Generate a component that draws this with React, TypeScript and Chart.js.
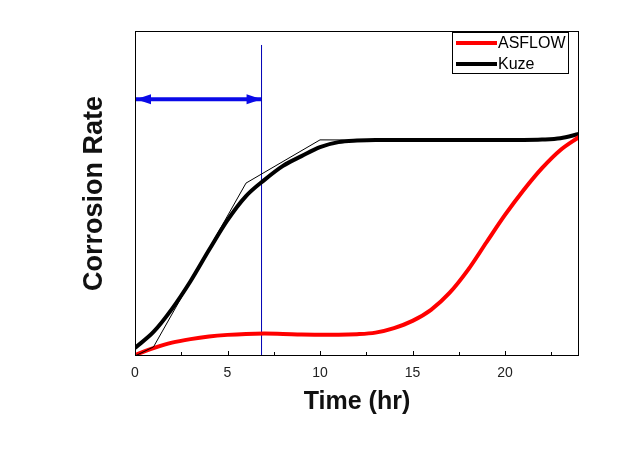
import { useEffect, useRef } from "react";
import { Chart, registerables } from "chart.js";

Chart.register(...registerables);

const hours = [0, 1, 2, 3, 4, 5, 6, 7, 8, 9, 10, 11, 12, 13, 14, 15, 16, 17, 18, 19, 20, 21, 22, 23, 24];
const asflowRate = [0.3, 2.4, 4.1, 5.2, 6.0, 6.5, 6.8, 6.9, 6.8, 6.6, 6.55, 6.55, 6.7, 7.2, 8.6, 10.8, 14.2, 19.4, 26.5, 35.0, 43.4, 51.0, 57.8, 63.4, 67.4];
const kuzeFitRate = [2.5, 7.4, 14.5, 23.0, 32.6, 41.8, 49.2, 54.2, 58.5, 61.5, 64.3, 65.8, 66.3, 66.5, 66.5, 66.5, 66.5, 66.5, 66.5, 66.5, 66.5, 66.5, 66.6, 67.0, 68.3];
const kuzeRawHours = [0, 1, 6, 10, 22, 24];
const kuzeRawRate = [0, 2.8, 53.2, 66.5, 66.3, 68.3];
const markerHour = 6.84;
const markerTop = 95.7;
const arrowLevel = 79;
const arrowHours = [0, 6.84];
const xTickValues = [0, 5, 10, 15, 20];
const legendLabels = ["ASFLOW", "Kuze"];
const legendColors = ["#ff0000", "#000000"];

const pts = (xs: number[], ys: number[]) => xs.map((x, i) => ({ x, y: ys[i] }));

const decorPlugin = {
  id: "decor",
  afterDatasetsDraw(chart: any) {
    const { ctx, chartArea: a, scales } = chart;
    const xs = scales.x;
    const ys = scales.y;
    ctx.save();
    // frame
    ctx.strokeStyle = "#000";
    ctx.lineWidth = 1;
    ctx.strokeRect(a.left + 0.5, a.top + 0.5, a.right - a.left - 1, a.bottom - a.top - 1);
    // inside ticks on x axis
    const major = xs.ticks.map((t: any) => t.value);
    ctx.beginPath();
    major.forEach((v: number) => {
      const px = Math.round(xs.getPixelForValue(v)) + 0.5;
      ctx.moveTo(px, a.bottom);
      ctx.lineTo(px, a.bottom - 5);
      const m = v + 2.5;
      if (m < xs.max) {
        const pm = Math.round(xs.getPixelForValue(m)) + 0.5;
        ctx.moveTo(pm, a.bottom);
        ctx.lineTo(pm, a.bottom - 4);
      }
    });
    ctx.stroke();
    // arrow heads
    const ay = ys.getPixelForValue(arrowLevel);
    const x0 = xs.getPixelForValue(arrowHours[0]) + 1;
    const x1 = xs.getPixelForValue(arrowHours[1]);
    ctx.fillStyle = "#0a0ae8";
    ctx.beginPath();
    ctx.moveTo(x0, ay);
    ctx.lineTo(x0 + 15, ay - 5);
    ctx.lineTo(x0 + 15, ay + 5);
    ctx.closePath();
    ctx.fill();
    ctx.beginPath();
    ctx.moveTo(x1, ay);
    ctx.lineTo(x1 - 15, ay - 5);
    ctx.lineTo(x1 - 15, ay + 5);
    ctx.closePath();
    ctx.fill();
    // legend
    const lx = a.right - 127;
    const ly = a.top + 1;
    ctx.fillStyle = "#fff";
    ctx.fillRect(lx, ly, 116, 41);
    ctx.strokeStyle = "#000";
    ctx.lineWidth = 1;
    ctx.strokeRect(lx + 0.5, ly + 0.5, 116, 41);
    ctx.font = "16px 'Liberation Sans', Arial, sans-serif";
    ctx.textBaseline = "middle";
    legendLabels.forEach((label, i) => {
      const cy = ly + 11 + i * 21;
      ctx.strokeStyle = legendColors[i];
      ctx.lineWidth = 4;
      ctx.beginPath();
      ctx.moveTo(lx + 4, cy);
      ctx.lineTo(lx + 45, cy);
      ctx.stroke();
      ctx.fillStyle = "#000";
      ctx.fillText(label, lx + 46, cy + 1);
    });
    ctx.restore();
  },
};

export default function App() {
  const ref = useRef<HTMLCanvasElement>(null);
  useEffect(() => {
    if (!ref.current) return;
    const chart = new Chart(ref.current, {
      type: "line",
      data: {
        datasets: [
          {
            label: "Kuze raw",
            data: pts(kuzeRawHours, kuzeRawRate),
            borderColor: "#000",
            borderWidth: 1,
            pointRadius: 0,
            tension: 0,
          },
          {
            label: "ASFLOW",
            data: pts(hours, asflowRate),
            borderColor: "#ff0000",
            borderWidth: 4,
            pointRadius: 0,
            cubicInterpolationMode: "monotone",
          },
          {
            label: "Kuze",
            data: pts(hours, kuzeFitRate),
            borderColor: "#000",
            borderWidth: 4,
            pointRadius: 0,
            cubicInterpolationMode: "monotone",
          },
          {
            label: "marker",
            data: [
              { x: markerHour, y: 0 },
              { x: markerHour, y: markerTop },
            ],
            borderColor: "#0000b4",
            borderWidth: 1,
            pointRadius: 0,
          },
          {
            label: "arrow",
            data: arrowHours.map((x) => ({ x, y: arrowLevel })),
            borderColor: "#0a0ae8",
            borderWidth: 4,
            pointRadius: 0,
          },
        ],
      },
      options: {
        animation: false,
        responsive: true,
        maintainAspectRatio: false,
        layout: { padding: { top: 31, right: 59, left: 0, bottom: 0 } },
        plugins: { legend: { display: false }, tooltip: { enabled: false } },
        scales: {
          x: {
            type: "linear",
            min: 0,
            max: 24,
            grid: { display: false, drawTicks: false },
            border: { display: false },
            afterBuildTicks: (s: any) => {
              s.ticks = xTickValues.map((value) => ({ value }));
            },
            ticks: {
              padding: 9,
              color: "#222",
              font: { size: 14, family: "'Liberation Sans', Arial, sans-serif" },
            },
            title: {
              display: true,
              text: "Time (hr)",
              color: "#111",
              font: { size: 25, weight: "bold", family: "'Liberation Sans', Arial, sans-serif" },
              padding: { top: 0, bottom: 49 },
            },
            afterFit: (s: any) => {
              s.height = 110;
            },
          },
          y: {
            min: 0,
            max: 100,
            grid: { display: false, drawTicks: false },
            border: { display: false },
            ticks: { display: false },
            title: {
              display: true,
              text: "Corrosion Rate",
              color: "#111",
              font: { size: 27, weight: "bold", family: "'Liberation Sans', Arial, sans-serif" },
              padding: { top: 78, bottom: 0 },
            },
            afterFit: (s: any) => {
              s.width = 135;
            },
          },
        },
      },
      plugins: [decorPlugin],
    } as any);
    return () => chart.destroy();
  }, []);
  return (
    <div style={{ position: "fixed", left: 0, top: 0, width: 638, height: 466, background: "#fff" }}>
      <canvas ref={ref} />
    </div>
  );
}
